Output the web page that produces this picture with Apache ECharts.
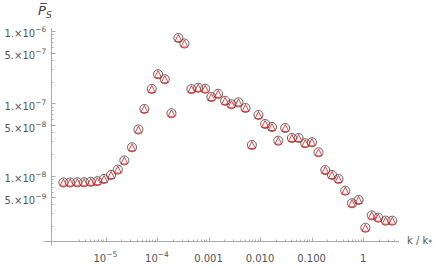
<!DOCTYPE html>
<html>
<head>
<meta charset="utf-8">
<script src="https://cdn.jsdelivr.net/npm/echarts@6/dist/echarts.min.js"></script>
<style>html,body{margin:0;padding:0;background:#fff;}#c{width:436px;height:267px;}</style>
</head>
<body>
<div id="c"></div>
<script>
// ---- data ----
const kValues = [1.52e-6, 2.05e-6, 2.83e-6, 3.83e-6, 5.16e-6, 6.93e-6, 9.35e-6, 1.28e-5, 1.73e-5, 2.32e-5,
  3.27e-5, 4.34e-5, 5.67e-5, 7.88e-5, 1.045e-4, 1.41e-4, 1.90e-4, 2.59e-4, 3.39e-4, 4.63e-4,
  6.25e-4, 8.55e-4, 1.13e-3, 1.53e-3, 2.09e-3, 2.77e-3, 3.79e-3, 5.19e-3, 6.90e-3, 9.27e-3,
  1.25e-2, 1.69e-2, 2.24e-2, 3.06e-2, 4.13e-2, 5.55e-2, 7.48e-2, 0.101, 0.1355, 0.183,
  0.247, 0.331, 0.447, 0.603, 0.811, 1.10, 1.46, 1.95, 2.72, 3.65];
const psValues = [8.03e-9, 8.03e-9, 8.07e-9, 8.07e-9, 8.20e-9, 8.37e-9, 8.98e-9, 1.02e-8, 1.21e-8, 1.62e-8,
  2.46e-8, 4.34e-8, 8.34e-8, 1.58e-7, 2.52e-7, 2.15e-7, 7.28e-8, 8.0e-7, 6.71e-7, 1.57e-7,
  1.64e-7, 1.59e-7, 1.22e-7, 1.35e-7, 1.08e-7, 9.69e-8, 1.03e-7, 8.61e-8, 2.65e-8, 6.89e-8,
  5.17e-8, 4.70e-8, 3.04e-8, 4.55e-8, 3.31e-8, 3.31e-8, 2.80e-8, 2.89e-8, 2.10e-8, 1.19e-8,
  1.02e-8, 8.97e-9, 6.18e-9, 4.14e-9, 4.60e-9, 1.90e-9, 2.82e-9, 2.62e-9, 2.38e-9, 2.38e-9];

const xMajorTicks = [1e-5, 1e-4, 1e-3, 1e-2, 0.1, 1];
const xTickLabels = ['10^-5', '10^-4', '0.001', '0.010', '0.100', '1'];
const yMajorTicks = [1e-6, 5e-7, 1e-7, 5e-8, 1e-8, 5e-9];
const yTickLabels = ['1.×10^-6', '5.×10^-7', '1.×10^-7', '5.×10^-8', '1.×10^-8', '5.×10^-9'];

const X_MIN = Math.pow(10, -6.058), X_MAX = Math.pow(10, 0.693);
const Y_MIN = Math.pow(10, -8.905), Y_MAX = Math.pow(10, -5.959);

// minor ticks at 2..9 x decade (only those not already major, inside range)
function minorTicks(lo, hi, majors) {
  const out = [];
  for (let d = Math.floor(Math.log10(lo)); d <= Math.ceil(Math.log10(hi)); d++) {
    for (let m = 1; m <= 9; m++) {
      const v = m * Math.pow(10, d);
      if (v > lo * 1.02 && v < hi && !majors.some(t => Math.abs(t - v) / v < 1e-6)) out.push(v);
    }
  }
  return out;
}
const xMinorTicks = minorTicks(2e-6, X_MAX, xMajorTicks);
const yMinorTicks = minorTicks(Y_MIN, Y_MAX, yMajorTicks);

const AXIS_COLOR = '#ababab';
const LABEL_COLOR = '#555';
const FONT = 'DejaVu Sans';

function toRich(s) {
  const i = s.indexOf('^');
  if (i < 0) return '{m|' + s + '}{h| }';
  return '{m|' + s.slice(0, i) + '}{s|' + s.slice(i + 1).replace('-', '\u2212') + '}{h| }';
}
const labelRich = {
  m: { fontSize: 10, fontFamily: FONT, fill: LABEL_COLOR, lineHeight: 12, verticalAlign: 'bottom' },
  s: { fontSize: 7.5, fontFamily: FONT, fill: LABEL_COLOR, lineHeight: 7, verticalAlign: 'top' },
  h: { fontSize: 1, fontFamily: FONT, lineHeight: 13 }
};

function px(v) { return Math.round(v) + 0.5; }

function renderAxes(params, api) {
  const o = api.coord([X_MIN, Y_MIN]);
  const e = api.coord([X_MAX, Y_MAX]);
  const ox = px(o[0]), oy = px(o[1]);
  const ls = { stroke: AXIS_COLOR, lineWidth: 1 };
  const ch = [];
  ch.push({ type: 'line', shape: { x1: ox - 8, y1: oy, x2: e[0], y2: oy }, style: ls });
  ch.push({ type: 'line', shape: { x1: ox, y1: oy + 4, x2: ox, y2: e[1] }, style: ls });
  xMajorTicks.forEach((v, i) => {
    const p = api.coord([v, Y_MIN]);
    const x = px(p[0]);
    ch.push({ type: 'line', shape: { x1: x, y1: oy, x2: x, y2: oy - 4 }, style: ls });
    ch.push({ type: 'text', x: p[0], y: oy + 9, style: {
      text: toRich(xTickLabels[i]), rich: labelRich, align: 'center', verticalAlign: 'top' } });
  });
  xMinorTicks.forEach(v => {
    const x = px(api.coord([v, Y_MIN])[0]);
    ch.push({ type: 'line', shape: { x1: x, y1: oy, x2: x, y2: oy - 2 }, style: ls });
  });
  yMajorTicks.forEach((v, i) => {
    const p = api.coord([X_MIN, v]);
    const y = px(p[1]);
    ch.push({ type: 'line', shape: { x1: ox, y1: y, x2: ox + 4, y2: y }, style: ls });
    ch.push({ type: 'text', x: ox - 5, y: p[1] + 1.5, style: {
      text: toRich(yTickLabels[i]), rich: labelRich, align: 'right', verticalAlign: 'middle' } });
  });
  yMinorTicks.forEach(v => {
    const y = px(api.coord([X_MIN, v])[1]);
    ch.push({ type: 'line', shape: { x1: ox, y1: y, x2: ox + 2, y2: y }, style: ls });
  });
  return { type: 'group', children: ch };
}

const points = kValues.map((k, i) => [k, psValues[i]]);

const chart = echarts.init(document.getElementById('c'), null, { renderer: 'svg' });
chart.setOption({
  animation: false,
  backgroundColor: '#fff',
  grid: { left: 51, right: 37, top: 28, bottom: 26 },
  xAxis: { type: 'log', logBase: 10, min: X_MIN, max: X_MAX,
    axisLine: { show: false }, axisTick: { show: false }, axisLabel: { show: false },
    splitLine: { show: false }, minorTick: { show: false } },
  yAxis: { type: 'log', logBase: 10, min: Y_MIN, max: Y_MAX,
    axisLine: { show: false }, axisTick: { show: false }, axisLabel: { show: false },
    splitLine: { show: false }, minorTick: { show: false } },
  graphic: [
    { type: 'text', left: 38, top: 4, style: {
      text: '{p|P\u0305}{s|S}',
      rich: {
        p: { fontSize: 13, fontFamily: FONT, fontStyle: 'italic', fill: '#444', lineHeight: 15, verticalAlign: 'top' },
        s: { fontSize: 9.5, fontFamily: FONT, fontStyle: 'italic', fill: '#444', lineHeight: 10, verticalAlign: 'bottom' }
      } } },
    { type: 'text', left: 407, top: 235, style: {
      text: '{m|k / k}{s|*}',
      rich: {
        m: { fontSize: 10, fontFamily: FONT, fill: LABEL_COLOR, lineHeight: 12, verticalAlign: 'top' },
        s: { fontSize: 8, fontFamily: FONT, fill: LABEL_COLOR, lineHeight: 8, verticalAlign: 'bottom' }
      } } }
  ],
  series: [
    { type: 'custom', data: [[X_MIN, Y_MIN]], renderItem: renderAxes, silent: true, z: 1 },
    { type: 'scatter', data: points, symbol: 'circle', symbolSize: 9, z: 3,
      itemStyle: { color: 'rgba(255,255,255,0)', borderColor: '#3a3a3a', borderWidth: 1 },
      emphasis: { disabled: true } },
    { type: 'scatter', data: points, symbol: 'triangle', symbolSize: 7, z: 4,
      itemStyle: { color: 'rgba(255,255,255,0)', borderColor: '#ee1111', borderWidth: 1 },
      emphasis: { disabled: true } }
  ]
});
</script>
</body>
</html>
